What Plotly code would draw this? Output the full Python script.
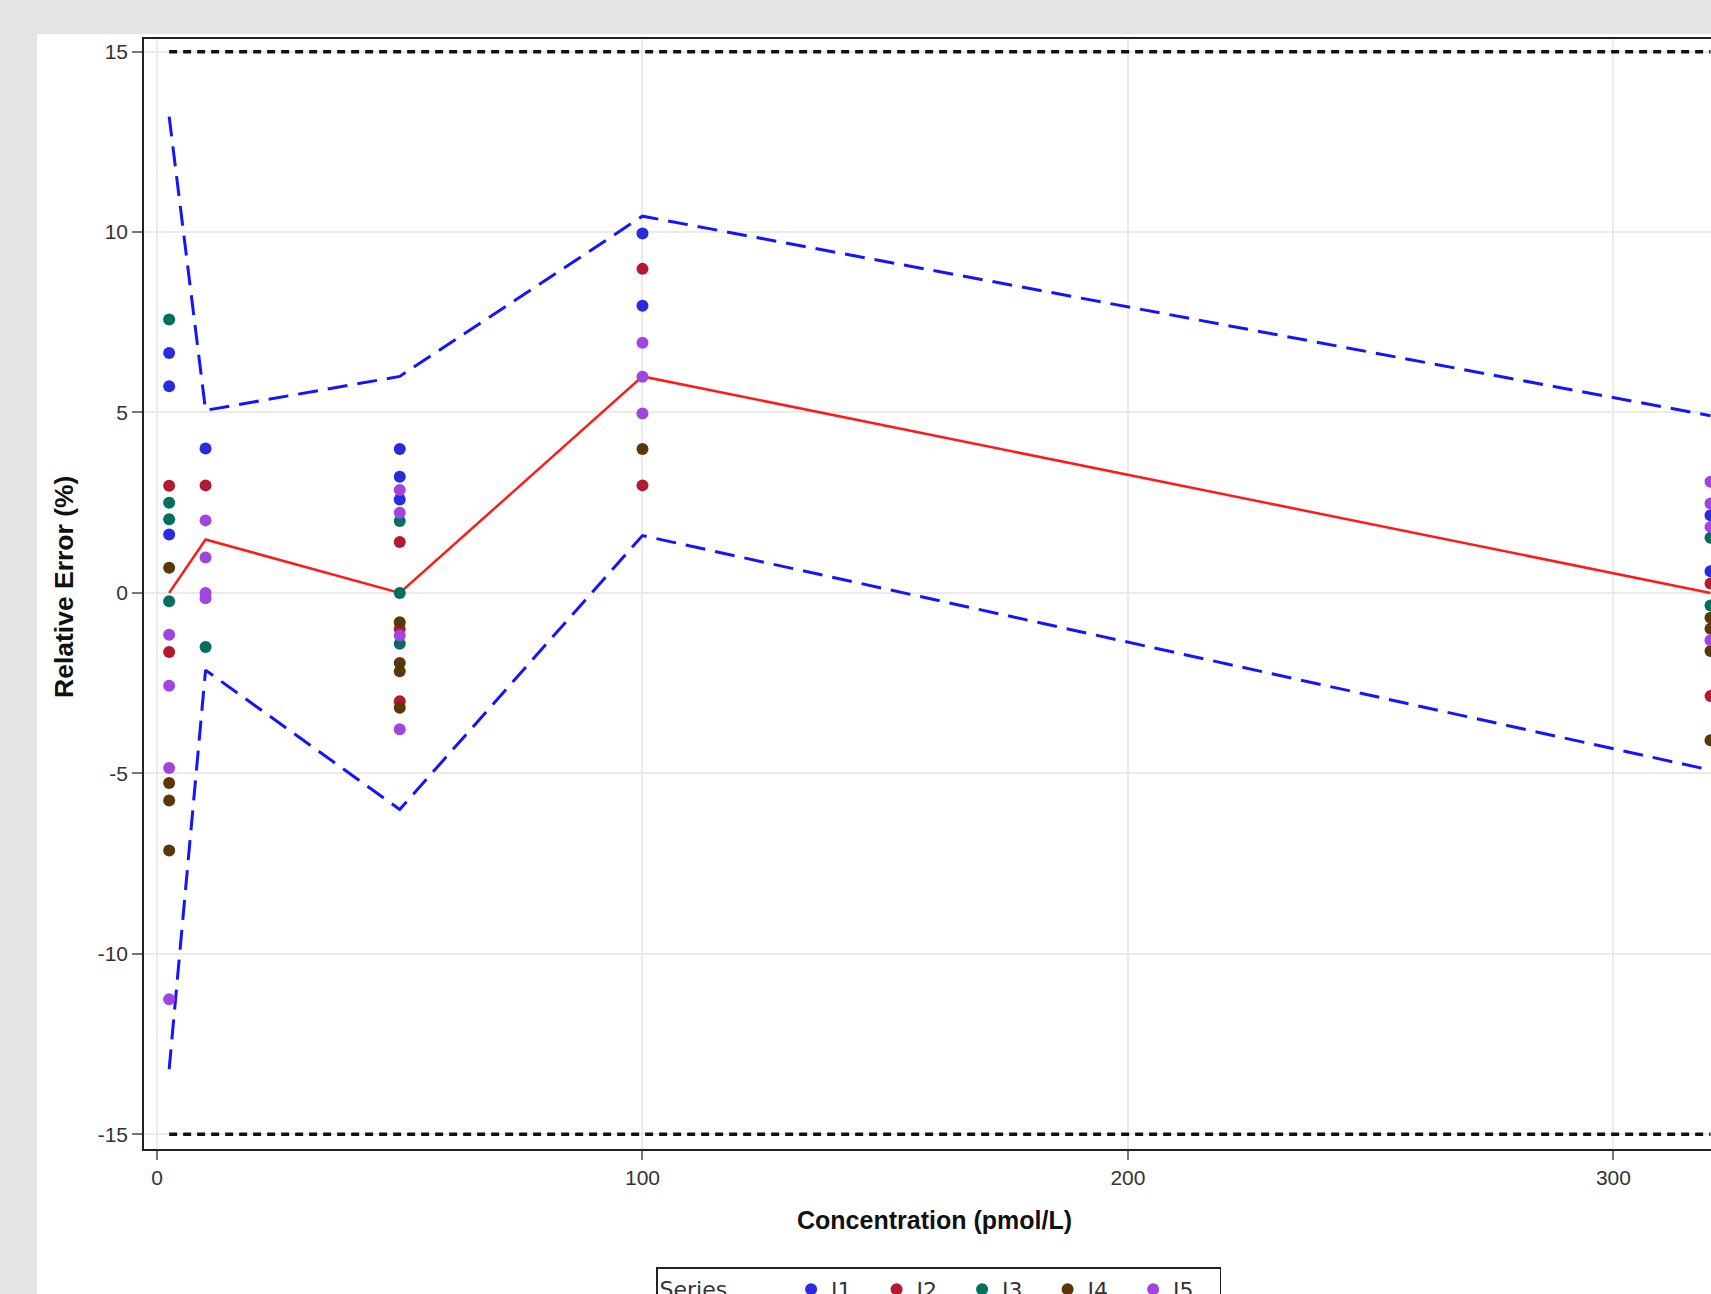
import plotly.graph_objects as go

# ---------------- data ----------------
series_names = ["J1", "J2", "J3", "J4", "J5"]
series_colors = ["#2a2ade", "#b3192f", "#00705c", "#5a3706", "#a046de"]

j1_x = [2.5, 2.5, 2.5, 10, 50, 50, 50, 100, 100, 320, 320]
j1_y = [6.65, 5.73, 1.62, 4.0, 3.99, 3.22, 2.59, 9.96, 7.96, 2.15, 0.60]

j2_x = [2.5, 2.5, 10, 50, 50, 50, 100, 100, 320, 320]
j2_y = [2.97, -1.64, 2.98, 1.41, -1.0, -3.0, 8.98, 2.98, 0.26, -2.86]

j3_x = [2.5, 2.5, 2.5, 2.5, 10, 50, 50, 50, 320, 320]
j3_y = [7.58, 2.50, 2.04, -0.23, -1.5, 1.99, 0.0, -1.41, 1.53, -0.35]

j4_x = [2.5, 2.5, 2.5, 2.5, 50, 50, 50, 50, 100, 320, 320, 320, 320]
j4_y = [0.70, -5.27, -5.75, -7.14, -0.81, -1.94, -2.17, -3.18, 3.99, -0.69, -0.99, -1.61, -4.08]

j5_x = [2.5, 2.5, 2.5, 2.5, 10, 10, 10, 10, 50, 50, 50, 50, 100, 100, 100, 320, 320, 320, 320]
j5_y = [-1.16, -2.57, -4.85, -11.26, 2.01, 0.98, 0.0, -0.15, 2.85, 2.22, -1.18, -3.78,
        6.93, 5.99, 4.97, 3.08, 2.48, 1.83, -1.31]

conc_levels = [2.5, 10, 50, 100, 320]
mean_error = [0.0, 1.48, 0.0, 6.0, 0.0]
upper_limit = [13.2, 5.06, 6.0, 10.44, 4.91]
lower_limit = [-13.2, -2.14, -6.0, 1.59, -4.91]

ref_x = [2.5, 320]
ref_upper = [15, 15]
ref_lower = [-15, -15]

x_tick_vals = [0, 100, 200, 300]
x_tick_text = ["0", "100", "200", "300"]
y_tick_vals = [-15, -10, -5, 0, 5, 10, 15]
y_tick_text = ["-15", "-10", "-5", "0", "5", "10", "15"]

# ---------------- figure ----------------
W, H = 1711, 1294
ML, MR, MT, MB = 144, 0, 39, 145
PW = W - ML - MR
PH = H - MT - MB

def px_x(p):
    return (p - ML) / PW

def px_y(p):
    return (H - MB - p) / PH

fig = go.Figure()

# reference lines (+/-15)
for ry in (ref_upper, ref_lower):
    fig.add_trace(go.Scatter(x=ref_x, y=ry, mode="lines", showlegend=False,
                             hoverinfo="skip",
                             line=dict(color="#111111", width=3.5, dash="8px,6px")))

# limits
for ly in (upper_limit, lower_limit):
    fig.add_trace(go.Scatter(x=conc_levels, y=ly, mode="lines", showlegend=False,
                             line=dict(color="#1414ff", width=3, dash="20px,10px")))

# mean line
fig.add_trace(go.Scatter(x=conc_levels, y=mean_error, mode="lines", showlegend=False,
                         line=dict(color="#ff1a1a", width=2.5)))

all_x = [j1_x, j2_x, j3_x, j4_x, j5_x]
all_y = [j1_y, j2_y, j3_y, j4_y, j5_y]
for name, col, xs, ys in zip(series_names, series_colors, all_x, all_y):
    fig.add_trace(go.Scatter(x=xs, y=ys, mode="markers", name=name,
                             marker=dict(color=col, size=12, line=dict(width=0))))

tick_font = dict(family="Liberation Sans, Arial, sans-serif", size=21, color="#333333")
title_font = dict(family="Liberation Sans, Arial, sans-serif", size=25, color="#111111")
legend_font = dict(family="DejaVu Sans, sans-serif", size=22, color="#333333")

fig.update_layout(
    width=W, height=H,
    margin=dict(l=ML, r=MR, t=MT, b=MB, pad=0, autoexpand=False),
    paper_bgcolor="#e4e4e4",
    plot_bgcolor="white",
    showlegend=True,
    legend=dict(
        orientation="h",
        x=px_x(656), xanchor="left",
        y=px_y(1267), yanchor="top",
        bordercolor="#222222", borderwidth=1.5,
        bgcolor="white",
        font=legend_font,
        title=dict(text="Series" + "&nbsp;" * 8, font=legend_font),
        entrywidth=40.5, entrywidthmode="pixels",
        itemsizing="constant",
    ),
    xaxis=dict(
        range=[-2.68, 320.1],
        tickvals=x_tick_vals, ticktext=x_tick_text,
        showgrid=True, gridcolor="#ebebeb", gridwidth=2,
        zeroline=False,
        ticks="outside", ticklen=9, tickwidth=2, tickcolor="#777777",
        tickfont=tick_font,
        showline=True, linecolor="#222222", linewidth=1.5, mirror=True,
    ),
    yaxis=dict(
        range=[-15.41, 15.35],
        tickvals=y_tick_vals, ticktext=y_tick_text,
        showgrid=True, gridcolor="#ebebeb", gridwidth=2,
        zeroline=False,
        ticks="outside", ticklen=10, tickwidth=2, tickcolor="#777777",
        tickfont=tick_font,
        showline=True, linecolor="#222222", linewidth=1.5, mirror=False,
    ),
    shapes=[dict(type="rect", xref="paper", yref="paper", layer="below",
                 x0=px_x(37), x1=px_x(W + 5), y0=px_y(H + 5), y1=px_y(34),
                 fillcolor="white", line=dict(width=0))],
    annotations=[
        dict(text="<b>Concentration (pmol/L)</b>", xref="paper", yref="paper",
             x=px_x(935), y=px_y(1220), xanchor="center", yanchor="middle",
             showarrow=False, font=title_font),
        dict(text="<b>Relative Error (%)</b>", xref="paper", yref="paper",
             x=px_x(64), y=px_y(587), xanchor="center", yanchor="middle",
             textangle=-90, showarrow=False,
             font=dict(family="Liberation Sans, Arial, sans-serif", size=26.5, color="#111111")),
    ],
)

fig.write_html("out.html", config={"displayModeBar": False},
               post_script="document.body.style.margin='0';document.body.style.overflow='hidden';")
